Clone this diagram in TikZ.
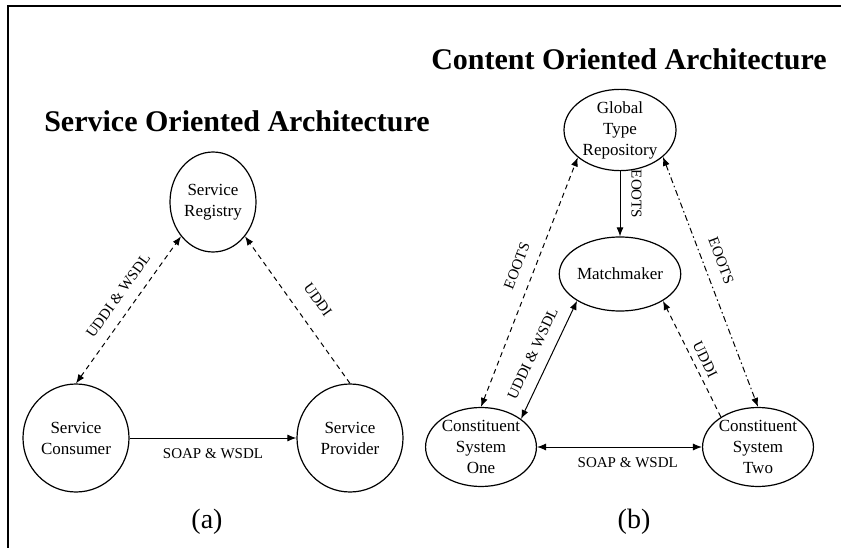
\documentclass[tikz,border=0pt]{standalone}
\usepackage{fontspec}
\setmainfont{Liberation Serif}
\usepackage{tikz}
\usetikzlibrary{shapes,arrows.meta,positioning,calc}

\begin{document}
\begin{tikzpicture}[x=1pt,y=-1pt,
    >={Latex[length=9pt,width=7pt]},
    comp/.style={draw,ellipse,line width=1.2pt,inner sep=0pt,align=center,
      font=\fontsize{17}{21}\selectfont},
    lbl/.style={font=\fontsize{15}{18}\selectfont,sloped,inner sep=1pt},
    conn/.style={line width=1pt},
    dsh/.style={conn,dash pattern=on 5pt off 4pt},
    dshdot/.style={conn,dash pattern=on 6pt off 3pt on 1.5pt off 3pt},
    ttl/.style={font=\fontsize{30}{36}\selectfont\bfseries,anchor=base},
    subcap/.style={font=\fontsize{28}{34}\selectfont}]

      \useasboundingbox (0,0) rectangle (841,548);
      \draw[line width=1.8pt] (841,6) -- (8,6) -- (8,548);

      % (a) service oriented
      \coordinate (R) at (213,202);
      \coordinate (C) at (76,438);
      \coordinate (P) at (350,438);

      \node[ttl] (soa) at (237,132) {Service Oriented Architecture};
      \node[comp,minimum width=86pt,minimum height=100pt] (reg) at (R) {Service\\Registry};
      \node[comp,minimum width=106pt,minimum height=108pt] (cons) at (C) {Service\\Consumer};
      \node[comp,minimum width=106pt,minimum height=108pt] (prov) at (P) {Service\\Provider};
      \node[subcap] (capa) at (207,522) {(a)};

      \draw[dsh,<->] (cons.north) --node[lbl,pos=0.53,above=10pt] {UDDI \& WSDL} (reg.227);
      \draw[dsh,->] (prov.north) --node[lbl,pos=0.48,above=16pt] {UDDI} (reg.313);
      \draw[conn,->] (cons) --node[lbl,below=9pt] {SOAP \& WSDL} (prov);

      % (b) content oriented
      \coordinate (G) at (620,130);
      \coordinate (M) at (620,274);
      \coordinate (S1) at (481,447);
      \coordinate (S2) at (758,447);

      \node[ttl] (coa) at (629,70) {Content Oriented Architecture};
      \node[comp,minimum width=112pt,minimum height=76pt] (gtr) at (G) {Global\\Type\\Repository};
      \node[comp,minimum width=118pt,minimum height=74pt] (mm) at (M) {Matchmaker};
      \node[comp,minimum width=110pt,minimum height=79pt] (cs1) at (S1) {Constituent\\System\\One};
      \node[comp,minimum width=110pt,minimum height=79pt] (cs2) at (S2) {Constituent\\System\\Two};
      \node[subcap] (capb) at (634,522) {(b)};

      \draw[conn,->] (gtr) --node[lbl,pos=0.35,above=10pt] {EOOTS} (mm);
      \draw[dsh,<->] (cs1.north) --node[lbl,pos=0.54,above=11pt] {EOOTS} (gtr.213);
      \draw[dshdot,<->] (gtr.328) --node[lbl,pos=0.44,above=11pt] {EOOTS} (cs2.north);
      \draw[conn,<->] (cs1.35) --node[lbl,pos=0.49,above=11pt] {UDDI \& WSDL} (mm.212);
      \draw[dsh,->] (cs2.141) --node[lbl,pos=0.45,above=5pt] {UDDI} (mm.328);
      \draw[conn,<->] (cs1) --node[lbl,pos=0.55,below=9pt] {SOAP \& WSDL} (cs2);

\end{tikzpicture}
\end{document}
